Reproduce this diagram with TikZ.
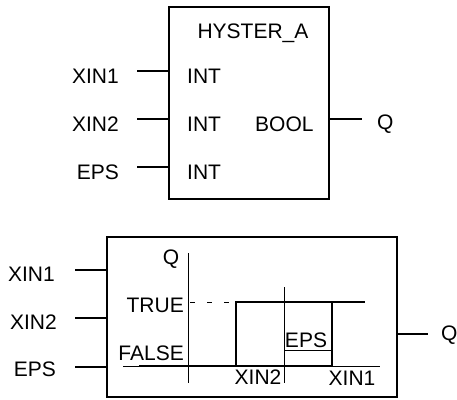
\documentclass[tikz,border=0pt]{standalone}
\usepackage{fontspec}
\setmainfont{Liberation Sans}
\begin{document}
\begin{tikzpicture}[x=1pt,y=-1pt,
  lbl/.style={font=\fontsize{21}{23}\selectfont, inner sep=0pt},
  blk/.style={draw, line width=2.4pt, inner sep=0pt},
  wire/.style={line width=2.2pt},
  thinln/.style={line width=0.9pt},
  curve/.style={line width=2.6pt},
  dashln/.style={line width=0.9pt, dash pattern=on 5pt off 12pt}]
\useasboundingbox (0,0) rectangle (457,399);

% ---------- top function block ----------
\node[blk, minimum width=160pt, minimum height=192pt] (fb) at (249,103) {};
\node[lbl] (title) at (253,33) {HYSTER\_A};
\node[lbl, anchor=west] (int1) at (187,76) {INT};
\node[lbl, anchor=west] (int2) at (187,124) {INT};
\node[lbl, anchor=west] (int3) at (187,172) {INT};
\node[lbl, anchor=west] (bool) at (255,124) {BOOL};

\coordinate (i1) at (137,71);
\coordinate (i2) at (137,119);
\coordinate (i3) at (137,167);
\coordinate (o1) at (362,119);
\draw[wire] (i1) -- (i1 -| fb.west);
\draw[wire] (i2) -- (i2 -| fb.west);
\draw[wire] (i3) -- (i3 -| fb.west);
\draw[wire] (o1 -| fb.east) -- (o1);

\node[lbl, anchor=east] (x1) at (119,76) {XIN1};
\node[lbl, anchor=east] (x2) at (119,124) {XIN2};
\node[lbl, anchor=east] (ep) at (119,172) {EPS};
\node[lbl, anchor=west] (q) at (377,124) {Q};

% ---------- bottom characteristic block ----------
\node[blk, minimum width=290pt, minimum height=160pt] (cb) at (252,317) {};

\coordinate (j1) at (75,270);
\coordinate (j2) at (75,318);
\coordinate (j3) at (75,367);
\coordinate (p1) at (428,334);
\draw[wire] (j1) -- (j1 -| cb.west);
\draw[wire] (j2) -- (j2 -| cb.west);
\draw[wire] (j3) -- (j3 -| cb.west);
\draw[wire] (p1 -| cb.east) -- (p1);

\node[lbl, anchor=east] (bx1) at (55,274) {XIN1};
\node[lbl, anchor=east] (bx2) at (57,322) {XIN2};
\node[lbl, anchor=east] (bep) at (56,369) {EPS};
\node[lbl, anchor=west] (bq) at (441,335) {Q};

% graph inside
\draw[thinln] (188,253) -- (188,383);
\draw[thinln] (123,366) -- (380,366);
\draw[thinln] (284,287) -- (284,383);
\draw[thinln] (284,350) -- (332,350);
\draw[dashln] (190,302) -- (236,302);
\draw[curve] (139,366) -- (332,366) -- (332,302);
\draw[curve] (236,366) -- (236,302) -- (365,302);

\node[lbl] (gq) at (171,259) {Q};
\node[lbl, anchor=east] (gt) at (184,305) {TRUE};
\node[lbl, anchor=east] (gf) at (184,353) {FALSE};
\node[lbl] (geps) at (306,340) {EPS};
\node[lbl] (gx2) at (258,377) {XIN2};
\node[lbl] (gx1) at (352,378) {XIN1};
\end{tikzpicture}
\end{document}
